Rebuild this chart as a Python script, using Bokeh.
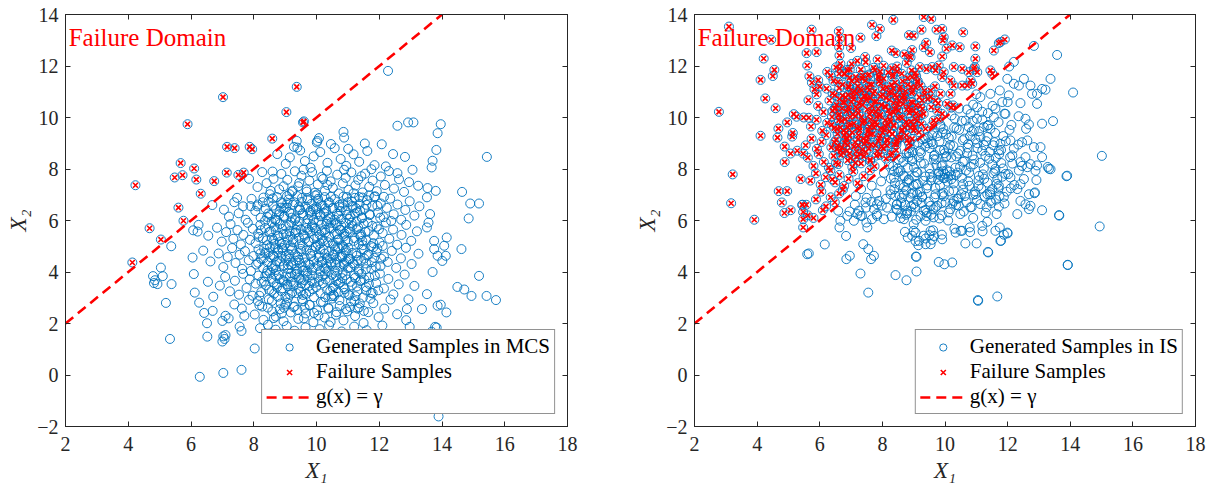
from bokeh.plotting import figure
from bokeh.models import Range1d, LinearAxis, FixedTicker, Legend, LegendItem, Label
from bokeh.layouts import row
from bokeh.embed import file_html
from bokeh.resources import INLINE

# ---------------------------------------------------------------- data
x1_ticks = [2, 4, 6, 8, 10, 12, 14, 16, 18]
x2_ticks = [-2, 0, 2, 4, 6, 8, 10, 12, 14]

# limit state g(x) = gamma  ->  X2 = X1
gamma_x1 = [2, 14]
gamma_x2 = [2, 14]

# Monte Carlo samples (safe side, X2 < X1)
mcs_safe_upper = [
    (12.28, 11.81), (12.58, 9.68), (12.92, 9.81), (13.09, 9.81), (13.96, 9.74), (13.86, 9.39),
    (10.08, 9.20), (10.01, 9.03), (10.86, 9.44), (10.88, 9.22), (10.03, 9.09), (9.37, 9.09),
    (9.39, 8.83), (11.54, 8.99), (12.08, 8.96),
    (13.82, 8.74), (12.82, 8.47), (15.43, 8.47), (13.70, 8.32), (13.67, 8.06), (12.21, 8.10),
    (13.06, 7.97), (8.75, 8.58), (9.02, 8.20), (9.15, 8.45), (9.48, 8.72), (9.63, 8.31),
    (9.81, 8.05), (10.12, 8.66), (10.35, 8.24), (10.58, 8.81), (10.77, 8.39), (10.95, 8.12),
    (11.18, 8.57), (11.36, 8.28), (11.62, 8.70), (11.85, 8.15), (12.44, 8.58), (9.28, 8.86),
    (10.46, 8.97), (11.01, 8.78), (9.91, 8.49),
    (7.85, 7.62), (8.12, 7.30), (8.54, 7.15), (8.60, 7.90), (8.63, 7.62), (8.41, 7.45),
    (8.88, 7.81), (8.95, 7.33), (9.07, 7.58), (9.22, 7.12), (9.31, 7.91), (9.45, 7.46),
    (9.52, 7.74), (9.68, 7.21), (9.77, 7.55), (9.86, 7.88), (9.95, 7.08), (10.04, 7.40),
    (10.16, 7.69), (10.27, 7.15), (10.33, 7.93), (10.45, 7.52), (10.52, 7.27), (10.66, 7.78),
    (10.71, 7.05), (10.84, 7.44), (10.93, 7.66), (11.02, 7.19), (11.11, 7.87), (11.24, 7.36),
    (11.33, 7.58), (11.47, 7.09), (11.55, 7.82), (11.68, 7.31), (11.79, 7.55), (11.92, 7.14),
    (12.05, 7.71), (12.18, 7.38), (12.31, 7.92), (12.47, 7.24), (12.63, 7.60), (12.79, 7.11),
    (12.95, 7.49), (13.24, 7.35), (13.54, 7.26), (13.80, 7.15), (14.64, 7.11), (9.14, 7.02),
    (9.59, 7.98), (10.88, 7.97), (11.75, 7.99), (8.27, 7.88), (10.21, 7.61), (11.43, 7.72),
    (12.58, 7.84),
]
mcs_safe_mid = [
    (6.68, 6.60), (7.05, 6.42), (7.21, 6.15), (7.38, 6.71), (7.52, 6.28), (7.66, 6.55),
    (7.74, 6.03), (7.90, 6.56), (7.93, 6.84), (8.05, 6.37), (8.13, 6.62), (8.22, 6.11),
    (8.31, 6.89), (8.38, 6.46), (8.47, 6.73), (8.52, 6.22), (8.61, 6.58), (8.69, 6.04),
    (8.74, 6.91), (8.82, 6.35), (8.91, 6.67), (8.97, 6.18), (9.03, 6.49), (9.11, 6.82),
    (9.18, 6.27), (9.24, 6.61), (9.33, 6.08), (9.39, 6.95), (9.46, 6.41), (9.52, 6.72),
    (9.58, 6.19), (9.65, 6.53), (9.71, 6.86), (9.79, 6.31), (9.84, 6.65), (9.91, 6.02),
    (9.98, 6.44), (10.05, 6.77), (10.12, 6.23), (10.19, 6.58), (10.26, 6.91), (10.31, 6.36),
    (10.38, 6.69), (10.44, 6.12), (10.51, 6.47), (10.58, 6.83), (10.65, 6.26), (10.72, 6.60),
    (10.79, 6.05), (10.86, 6.93), (10.93, 6.39), (11.00, 6.71), (11.08, 6.16), (11.15, 6.52),
    (11.22, 6.88), (11.30, 6.33), (11.37, 6.64), (11.45, 6.09), (11.53, 6.45), (11.61, 6.79),
    (11.70, 6.21), (11.78, 6.57), (11.87, 6.94), (11.96, 6.30), (12.05, 6.66), (12.14, 6.13),
    (12.24, 6.49), (12.35, 6.85), (12.46, 6.24), (12.58, 6.62), (12.70, 6.03), (12.83, 6.41),
    (12.97, 6.75), (13.12, 6.19), (13.28, 6.55), (13.52, 6.90), (13.62, 6.25), (14.90, 6.66),
    (15.18, 6.66), (14.85, 6.08), (7.47, 6.88), (8.87, 6.50), (9.96, 6.97), (10.83, 6.52),
    (11.67, 6.97), (12.15, 6.92),
    (5.37, 5.00), (6.07, 5.62), (6.21, 5.57), (6.24, 5.83), (6.55, 5.41), (6.83, 5.72),
    (6.98, 5.18), (7.12, 5.55), (7.26, 5.86), (7.35, 5.29), (7.48, 5.63), (7.59, 5.07),
    (7.67, 5.44), (7.81, 5.91), (7.88, 5.25), (7.97, 5.68), (8.06, 5.12), (8.14, 5.49),
    (8.21, 5.83), (8.29, 5.31), (8.36, 5.71), (8.43, 5.04), (8.50, 5.56), (8.57, 5.95),
    (8.63, 5.22), (8.70, 5.62), (8.76, 5.38), (8.83, 5.86), (8.89, 5.09), (8.95, 5.47),
    (9.02, 5.77), (9.08, 5.24), (9.14, 5.58), (9.20, 5.93), (9.26, 5.15), (9.32, 5.52),
    (9.38, 5.81), (9.44, 5.33), (9.50, 5.66), (9.56, 5.02), (9.62, 5.41), (9.68, 5.89),
    (9.74, 5.19), (9.80, 5.57), (9.86, 5.74), (9.92, 5.28), (9.98, 5.61), (10.04, 5.06),
    (10.10, 5.45), (10.16, 5.84), (10.22, 5.21), (10.28, 5.53), (10.34, 5.97), (10.40, 5.36),
    (10.46, 5.70), (10.52, 5.11), (10.58, 5.48), (10.64, 5.82), (10.70, 5.26), (10.76, 5.64),
    (10.82, 5.03), (10.88, 5.39), (10.94, 5.91), (11.00, 5.18), (11.07, 5.55), (11.14, 5.79),
    (11.21, 5.32), (11.28, 5.67), (11.35, 5.08), (11.42, 5.46), (11.50, 5.87), (11.58, 5.23),
    (11.66, 5.59), (11.74, 5.01), (11.83, 5.42), (11.92, 5.76), (12.01, 5.14), (12.11, 5.51),
    (12.21, 5.92), (12.32, 5.29), (12.44, 5.65), (12.57, 5.06), (12.71, 5.44), (12.86, 5.83),
    (13.02, 5.21), (13.20, 5.58), (13.57, 5.92), (13.52, 5.73), (14.15, 5.34), (14.07, 5.02),
    (13.75, 5.21), (9.17, 5.01), (10.07, 5.99), (10.96, 5.58), (12.38, 5.98),
    (5.04, 4.17), (6.05, 4.56), (6.39, 4.83), (6.62, 4.41), (6.88, 4.72), (7.03, 4.19),
    (7.17, 4.58), (7.31, 4.93), (7.42, 4.35), (7.55, 4.67), (7.63, 4.12), (7.72, 4.81),
    (7.84, 4.46), (7.91, 4.04), (7.99, 4.62), (8.08, 4.29), (8.15, 4.88), (8.23, 4.51),
    (8.30, 4.15), (8.37, 4.74), (8.44, 4.37), (8.51, 4.96), (8.58, 4.22), (8.65, 4.59),
    (8.71, 4.08), (8.78, 4.77), (8.84, 4.41), (8.90, 4.93), (8.96, 4.26), (9.02, 4.64),
    (9.08, 4.11), (9.14, 4.52), (9.20, 4.85), (9.26, 4.34), (9.32, 4.69), (9.38, 4.02),
    (9.44, 4.47), (9.50, 4.90), (9.56, 4.19), (9.62, 4.56), (9.68, 4.83), (9.74, 4.31),
    (9.80, 4.71), (9.86, 4.07), (9.92, 4.44), (9.98, 4.97), (10.04, 4.24), (10.10, 4.61),
    (10.16, 4.38), (10.22, 4.87), (10.28, 4.13), (10.34, 4.54), (10.40, 4.79), (10.46, 4.29),
    (10.52, 4.66), (10.58, 4.05), (10.64, 4.48), (10.70, 4.92), (10.76, 4.21), (10.82, 4.58),
    (10.88, 4.36), (10.94, 4.84), (11.00, 4.15), (11.07, 4.51), (11.14, 4.74), (11.21, 4.27),
    (11.28, 4.63), (11.35, 4.09), (11.42, 4.45), (11.50, 4.88), (11.58, 4.33), (11.66, 4.68),
    (11.75, 4.12), (11.84, 4.55), (11.94, 4.91), (12.04, 4.23), (12.15, 4.60), (12.27, 4.39),
    (12.40, 4.82), (12.54, 4.16), (12.69, 4.53), (12.85, 4.94), (13.03, 4.31), (13.25, 4.71),
    (13.75, 4.89), (14.62, 4.89), (13.86, 4.63), (14.12, 4.63), (14.01, 4.43), (13.70, 4.00),
    (9.47, 4.36), (10.12, 4.03), (10.67, 4.99), (11.81, 4.96),
]
mcs_safe_dense = [
    (9.83, 4.62), (10.47, 5.91), (8.92, 3.37), (11.26, 6.48), (9.14, 5.83), (10.71, 3.55),
    (8.46, 6.27), (11.89, 4.21), (9.57, 2.86), (10.05, 6.84), (8.68, 4.95), (11.41, 5.37),
    (9.31, 3.91), (10.93, 4.76), (8.23, 5.62), (12.03, 6.11), (9.76, 5.17), (10.28, 3.02),
    (8.81, 7.21), (11.07, 2.64), (9.44, 6.52), (10.62, 4.28), (8.37, 3.84), (11.63, 5.94),
    (9.02, 4.47), (10.16, 5.58), (8.59, 2.47), (11.34, 4.02), (9.69, 7.12), (10.84, 6.66),
    (8.14, 4.36), (11.97, 3.29), (9.25, 5.27), (10.38, 2.58), (8.75, 5.99), (11.18, 7.06),
    (9.61, 3.68), (10.55, 5.03), (8.29, 6.71), (11.72, 2.96), (9.88, 3.33), (10.11, 4.88),
    (8.97, 6.14), (11.53, 3.71), (9.37, 4.13), (10.79, 5.79), (8.53, 4.58), (11.02, 4.51),
    (9.73, 6.05), (10.24, 6.29), (8.86, 2.78), (11.47, 6.89), (9.16, 3.12), (10.67, 4.05),
    (8.41, 5.23), (11.81, 5.12), (9.51, 4.81), (10.35, 7.38), (8.63, 3.59), (11.29, 3.44),
    (9.92, 2.41), (10.03, 5.36), (8.18, 3.08), (11.61, 4.64), (9.06, 6.95), (10.89, 3.19),
    (8.71, 6.43), (11.12, 5.91), (9.58, 5.46), (10.43, 4.52), (8.33, 4.91), (11.94, 6.57),
    (9.27, 2.64), (10.58, 6.03), (8.94, 4.22), (11.38, 2.78), (9.81, 6.38), (10.19, 3.84),
    (8.51, 7.02), (11.76, 4.38), (9.12, 4.69), (10.73, 2.91), (8.27, 2.66), (11.22, 6.27),
    (9.66, 3.94), (10.97, 6.91), (8.79, 5.41), (11.56, 5.56), (9.42, 7.33), (10.31, 4.33),
    (8.57, 3.27), (11.09, 3.62), (9.97, 4.99), (10.52, 3.38), (8.11, 6.55), (12.11, 5.01),
    (9.21, 6.11), (10.66, 5.47), (8.89, 2.39), (11.44, 4.89), (9.35, 5.63), (10.08, 3.63),
    (8.44, 4.06), (11.69, 6.24), (9.78, 2.72), (10.86, 4.97), (8.66, 5.76), (11.24, 3.06),
    (9.49, 3.24), (10.14, 6.62), (8.99, 5.05), (11.86, 3.85), (9.09, 2.98), (10.41, 5.72),
    (8.21, 4.72), (11.33, 5.73), (9.64, 4.37), (10.77, 6.37), (8.73, 4.41), (11.51, 2.49),
    (9.86, 5.82), (10.21, 2.82), (8.48, 2.93), (11.16, 4.34), (9.29, 6.71), (10.92, 5.22),
    (8.83, 3.72), (11.78, 5.79), (9.54, 6.88), (10.49, 3.89), (8.36, 5.99), (11.04, 6.06),
    (9.94, 3.58), (10.64, 2.44), (8.93, 4.84), (11.43, 3.93), (9.18, 3.62), (10.26, 4.71),
    (8.61, 6.86), (12.06, 4.52), (9.71, 4.03), (10.82, 3.76), (8.16, 5.36), (11.27, 4.73),
    (9.39, 2.53), (10.02, 7.01), (8.77, 3.04), (11.59, 6.61), (9.03, 5.49), (10.57, 4.66),
    (8.39, 3.48), (11.13, 6.74), (9.83, 6.21), (10.36, 5.16), (8.69, 4.27), (11.91, 4.77),
    (9.47, 5.07), (10.71, 6.18), (8.25, 3.62), (11.39, 6.38), (9.19, 4.27), (10.94, 2.56),
    (8.55, 5.58), (11.67, 3.54), (9.62, 2.61), (10.17, 4.43), (8.87, 6.71), (11.21, 2.87),
    (9.33, 4.44), (10.46, 6.92), (8.13, 2.87), (11.84, 6.92), (9.91, 4.16), (10.61, 5.88),
    (8.64, 2.21), (11.46, 5.21), (9.07, 3.52), (10.29, 6.47), (8.43, 6.14), (11.01, 3.13),
    (9.56, 6.28), (10.87, 4.28), (8.31, 4.53), (11.74, 3.19), (9.74, 5.64), (10.06, 2.31),
    (8.91, 5.67), (11.31, 2.58), (9.24, 7.16), (10.54, 3.12), (8.71, 3.86), (11.57, 4.11),
    (9.45, 3.77), (10.12, 5.11), (8.47, 4.76), (11.99, 5.66), (9.99, 6.53), (10.75, 4.59),
    (8.97, 2.61), (11.36, 6.91),
    (9.22, 4.91), (10.44, 3.27), (8.83, 5.16), (11.06, 5.68), (9.67, 3.15), (10.13, 6.16),
    (8.62, 4.14), (11.31, 4.46), (9.48, 6.43), (10.86, 3.41), (9.03, 3.83), (10.32, 5.87),
    (8.95, 6.48), (11.48, 5.04), (9.79, 4.28), (10.59, 4.88), (9.34, 5.54), (10.97, 6.22),
    (8.74, 3.42), (11.23, 3.77), (9.95, 5.71), (10.24, 4.17), (9.13, 6.33), (10.68, 5.26),
    (8.58, 5.32), (11.15, 6.57), (9.58, 4.06), (10.41, 6.71), (9.01, 2.74), (11.37, 5.46),
    (9.86, 3.87), (10.07, 4.56), (8.69, 6.02), (11.59, 3.28), (9.41, 4.58), (10.74, 5.63),
    (9.26, 3.47), (10.52, 6.49), (8.89, 4.63), (11.01, 4.94), (9.71, 6.79), (10.29, 3.71),
    (9.16, 5.39), (10.81, 4.63), (8.52, 3.97), (11.45, 6.12), (9.63, 5.29), (10.35, 4.04),
    (9.07, 6.67), (10.92, 3.88), (9.53, 3.56), (10.18, 5.29), (8.78, 4.87), (11.28, 5.96),
    (9.89, 6.44), (10.63, 3.65), (9.31, 6.02), (10.47, 4.38), (8.66, 5.09), (11.08, 4.18),
    (9.76, 3.46), (10.01, 6.24), (9.19, 3.96), (10.89, 5.49), (8.96, 3.63), (11.52, 4.52),
    (9.45, 5.96), (10.27, 5.64), (9.87, 4.83), (10.73, 6.52), (9.09, 4.28), (10.56, 3.06),
    (8.81, 6.24), (11.19, 5.21), (9.68, 5.71), (10.38, 6.07), (9.36, 3.18), (10.95, 4.41),
    (8.61, 4.66), (11.41, 3.67),
]
mcs_safe_lower = [
    (4.79, 3.84), (4.85, 3.68), (5.10, 3.84), (4.82, 3.57), (4.93, 3.53), (5.38, 3.53),
    (6.09, 3.92), (6.54, 3.62), (6.71, 3.04), (6.92, 3.47), (7.09, 3.81), (7.24, 3.25),
    (7.40, 3.66), (7.53, 3.12), (7.66, 3.93), (7.77, 3.38), (7.87, 3.71), (7.96, 3.08),
    (8.06, 3.55), (8.15, 3.86), (8.24, 3.22), (8.33, 3.63), (8.41, 3.95), (8.49, 3.31),
    (8.57, 3.74), (8.65, 3.16), (8.73, 3.52), (8.80, 3.89), (8.87, 3.27), (8.94, 3.68),
    (9.01, 3.04), (9.08, 3.44), (9.15, 3.82), (9.22, 3.19), (9.29, 3.58), (9.36, 3.93),
    (9.43, 3.35), (9.50, 3.72), (9.57, 3.11), (9.64, 3.49), (9.71, 3.86), (9.78, 3.24),
    (9.85, 3.63), (9.92, 3.02), (9.99, 3.41), (10.06, 3.79), (10.13, 3.17), (10.20, 3.56),
    (10.27, 3.91), (10.34, 3.29), (10.41, 3.67), (10.48, 3.06), (10.55, 3.45), (10.62, 3.84),
    (10.69, 3.21), (10.76, 3.60), (10.83, 3.97), (10.90, 3.33), (10.97, 3.71), (11.05, 3.09),
    (11.13, 3.48), (11.21, 3.87), (11.30, 3.25), (11.39, 3.64), (11.48, 3.01), (11.58, 3.42),
    (11.68, 3.80), (11.79, 3.18), (11.90, 3.57), (12.02, 3.94), (12.15, 3.36), (12.29, 3.73),
    (12.45, 3.13), (12.62, 3.52), (12.93, 2.94), (13.52, 3.14), (14.49, 3.42), (14.71, 3.32),
    (14.94, 3.07), (15.42, 3.07), (15.72, 2.91), (15.18, 3.85), (12.81, 3.90), (13.12, 3.46),
    (5.20, 2.80), (6.12, 3.20), (6.26, 2.81), (6.42, 2.41), (6.51, 2.01), (6.69, 2.49),
    (7.10, 2.30), (7.20, 2.20), (7.00, 2.10), (7.70, 2.30), (7.38, 2.74), (7.62, 2.58),
    (7.85, 2.92), (8.03, 2.35), (8.18, 2.71), (8.31, 2.14), (8.45, 2.62), (8.58, 2.88),
    (8.70, 2.27), (8.83, 2.55), (8.95, 2.09), (9.06, 2.81), (9.18, 2.43), (9.30, 2.66),
    (9.42, 2.18), (9.54, 2.95), (9.66, 2.39), (9.78, 2.72), (9.90, 2.05), (10.02, 2.51),
    (10.14, 2.84), (10.26, 2.23), (10.38, 2.61), (10.50, 2.97), (10.62, 2.34), (10.74, 2.68),
    (10.86, 2.12), (10.98, 2.47), (11.10, 2.86), (11.23, 2.29), (11.36, 2.63), (11.50, 2.02),
    (11.65, 2.44), (11.81, 2.79), (11.98, 2.25), (12.16, 2.58), (12.36, 2.93), (12.57, 2.36),
    (12.88, 2.56), (12.86, 2.13), (13.36, 2.56), (13.86, 2.69), (13.96, 2.73), (14.14, 2.43),
    (9.60, 2.20), (10.45, 2.06),
    (6.52, 1.49), (7.00, 1.30), (7.07, 1.40), (7.10, 1.55), (7.03, 1.50), (7.61, 1.71),
    (7.55, 1.88), (8.03, 1.03), (5.33, 1.40), (8.20, 1.82), (8.45, 1.95), (8.70, 1.76),
    (9.05, 1.90), (9.30, 1.72), (9.65, 1.85), (10.10, 1.78), (10.40, 1.93), (10.80, 1.69),
    (11.20, 1.88), (11.60, 1.74), (12.10, 1.92), (12.97, 1.87), (13.67, 1.68), (13.83, 1.84),
    (13.78, 1.87), (6.28, -0.07), (7.03, 0.08), (7.61, 0.20), (13.89, -1.61), (9.50, 0.80),
    (10.50, 1.10), (11.30, 0.40), (12.40, 1.20), (10.90, -0.50),
]
# Monte Carlo failure samples (X2 > X1)
mcs_fail = [
    (4.23, 7.37), (4.13, 4.37), (4.68, 5.70), (5.04, 5.26), (5.48, 7.67), (5.60, 6.50),
    (5.67, 8.23), (5.73, 7.76), (5.76, 5.99), (5.89, 9.74), (6.10, 8.02), (6.17, 7.59),
    (6.31, 7.04), (6.74, 7.53), (7.02, 10.79), (7.14, 7.86), (7.15, 8.86), (7.39, 8.81),
    (7.51, 7.77), (7.68, 7.86), (7.87, 8.86), (7.95, 8.77), (8.59, 9.18), (9.04, 10.21),
    (9.37, 11.19), (9.57, 9.81), (9.60, 9.85),
]

# Importance sampling samples (safe side)
is_safe_outer = [
    (5.60, 4.69), (5.65, 4.72), (6.16, 5.07), (6.85, 4.50), (6.96, 4.63), (6.66, 5.99),
    (6.63, 5.73), (6.84, 5.40), (7.30, 3.94), (7.55, 3.20), (7.39, 5.08), (7.55, 4.89),
    (7.64, 4.50), (7.73, 4.63), (7.52, 5.73), (7.49, 5.92), (7.67, 6.05), (8.05, 6.05),
    (8.15, 6.50), (8.42, 3.88), (8.77, 3.68), (8.72, 5.56), (8.81, 5.34), (9.00, 5.60),
    (9.06, 5.20), (9.15, 5.04), (9.07, 4.60), (9.09, 4.02), (9.38, 5.30), (9.50, 5.43),
    (9.62, 5.62), (9.65, 5.40), (9.91, 5.27), (9.80, 4.39), (9.98, 4.30), (10.23, 4.37),
    (10.65, 5.11), (11.01, 5.11), (11.37, 4.78), (11.05, 2.91), (11.67, 3.05), (13.92, 4.27),
    (14.94, 5.77), (13.65, 6.19), (13.88, 7.72), (15.01, 8.51), (14.09, 10.97), (12.84, 12.78),
    (13.58, 12.43), (12.20, 12.16), (11.77, 5.21), (12.00, 5.50), (11.88, 5.45), (10.50, 5.60),
    (10.80, 5.55), (11.20, 5.58), (10.30, 5.68), (9.90, 5.45),
    (12.05, 11.98), (11.99, 11.50), (12.20, 11.31), (12.36, 11.24), (12.52, 11.50), (12.73, 11.24),
    (12.78, 10.92), (12.94, 10.53), (12.94, 10.92), (13.10, 11.11), (13.21, 11.08), (13.37, 11.50),
    (13.45, 9.86), (13.10, 9.76), (12.59, 9.56), (12.68, 9.73), (12.06, 9.52), (12.41, 10.56),
    (12.57, 9.95), (12.00, 10.60), (12.04, 10.86), (11.93, 10.14), (11.56, 10.01), (11.61, 10.34),
    (11.37, 10.17), (11.00, 10.90), (11.13, 10.79), (11.45, 10.92), (11.75, 11.05), (11.83, 10.60),
    (11.03, 10.40), (10.82, 10.14), (10.66, 9.88), (11.24, 9.63), (11.13, 9.24), (11.45, 9.56),
    (10.92, 9.50), (12.09, 9.11), (12.46, 9.04), (12.63, 9.11), (12.84, 8.85), (13.05, 8.85),
    (13.10, 8.46), (12.57, 8.46), (12.41, 8.27), (12.15, 8.53), (12.63, 8.07), (13.32, 8.01),
    (12.94, 8.14), (12.36, 7.94), (11.61, 8.01), (11.72, 8.72), (11.77, 8.98),
    (13.90, 7.74), (13.64, 6.21), (13.92, 4.28), (11.06, 2.88), (11.38, 4.76), (13.10, 6.40),
    (12.86, 7.06), (12.92, 7.57), (12.89, 7.93), (13.37, 7.99), (13.28, 8.08), (12.68, 6.44),
    (12.73, 6.57), (12.57, 6.63), (12.41, 6.76), (12.31, 6.25), (11.90, 6.66), (11.72, 6.54),
    (11.65, 6.25), (11.75, 5.73), (11.99, 5.53), (11.79, 5.21), (11.61, 5.60), (11.35, 5.95),
    (11.19, 5.79), (10.79, 5.73), (10.55, 5.60), (10.34, 5.53), (9.59, 5.25), (9.32, 5.41),
    (9.06, 5.53), (9.09, 4.59), (9.54, 5.60), (9.64, 6.12), (9.70, 6.51), (12.46, 8.12),
    (12.73, 8.19), (12.41, 7.41), (12.52, 7.61), (12.31, 7.22), (12.87, 7.09), (12.68, 7.02),
]
is_safe_core = [
    (12.09, 7.67), (11.83, 7.70), (11.72, 7.35), (11.51, 7.22), (11.35, 7.02), (11.45, 6.76),
    (11.13, 6.64), (10.97, 7.02), (10.81, 6.51), (10.49, 6.25), (10.17, 6.44), (10.28, 6.76),
    (10.02, 6.70), (9.91, 7.02), (9.75, 6.57), (9.54, 6.57), (9.32, 6.38), (9.22, 6.18),
    (9.38, 5.99), (9.00, 5.86), (8.95, 5.41), (9.38, 5.08), (9.54, 5.08), (9.17, 5.21),
    (9.62, 9.41), (9.85, 9.72), (10.03, 9.35), (10.21, 10.08), (10.37, 9.58), (10.54, 9.87),
    (10.70, 10.31), (10.86, 9.46), (11.02, 9.95), (11.19, 10.22), (11.35, 9.68), (11.52, 10.45),
    (11.71, 9.82), (11.90, 10.15), (12.12, 9.71), (12.35, 10.05), (10.45, 10.35), (9.95, 9.55),
    (11.60, 9.40), (10.90, 10.50),
    (8.85, 8.62), (9.02, 8.95), (9.20, 8.70), (9.36, 9.18), (9.51, 8.81), (9.67, 8.55),
    (9.82, 9.06), (9.97, 8.74), (10.12, 9.21), (10.27, 8.89), (10.42, 8.60), (10.57, 9.12),
    (10.72, 8.83), (10.88, 8.52), (11.03, 9.00), (11.19, 8.71), (11.36, 9.25), (11.54, 8.92),
    (11.73, 8.58), (11.94, 9.08), (12.20, 8.80), (9.45, 9.00), (10.05, 8.50), (10.80, 9.28),
    (8.05, 7.85), (8.21, 8.18), (8.37, 7.92), (8.52, 8.36), (8.67, 7.74), (8.81, 8.05),
    (8.95, 8.41), (9.09, 7.88), (9.23, 8.22), (9.37, 7.71), (9.50, 8.03), (9.64, 8.38),
    (9.78, 7.82), (9.92, 8.15), (10.06, 7.95), (10.20, 8.45), (10.34, 7.77), (10.48, 8.09),
    (10.62, 8.31), (10.77, 7.86), (10.92, 8.19), (11.08, 7.73), (11.24, 8.02), (11.41, 8.40),
    (11.60, 7.91), (11.80, 8.23), (12.02, 7.80), (9.95, 7.65), (10.00, 7.80), (10.10, 7.70),
    (10.20, 7.60), (9.85, 7.75), (10.15, 7.90),
    (7.15, 6.95), (7.32, 7.22), (7.50, 6.88), (7.66, 7.35), (7.81, 7.05), (7.96, 7.52),
    (8.11, 6.84), (8.26, 7.18), (8.40, 7.46), (8.55, 6.97), (8.69, 7.30), (8.84, 7.60),
    (8.98, 7.08), (9.13, 7.41), (9.27, 6.90), (9.41, 7.25), (9.55, 7.56), (9.70, 7.02),
    (9.84, 7.36), (9.99, 7.65), (10.13, 7.13), (10.28, 7.44), (10.43, 6.86), (10.58, 7.20),
    (10.74, 7.52), (10.90, 7.00), (11.07, 7.33), (11.25, 7.62), (11.44, 7.10), (11.65, 7.42),
    (11.88, 6.92), (12.10, 7.25),
    (6.95, 6.35), (7.12, 6.62), (7.30, 6.18), (7.48, 6.50), (7.65, 6.72), (7.82, 6.25),
    (7.98, 6.58), (8.30, 6.15), (8.45, 6.45), (8.60, 6.70), (8.76, 6.22), (8.92, 6.55),
    (9.08, 6.03), (9.25, 6.68), (9.42, 6.30), (9.90, 6.20), (10.10, 6.00), (10.35, 6.60),
    (10.60, 6.35), (10.90, 6.10), (11.30, 6.30),
    (6.59, 6.38), (6.88, 6.18), (7.25, 6.38), (7.35, 6.18), (7.46, 6.70), (7.83, 6.63),
    (7.83, 6.18), (8.26, 7.02), (8.47, 6.63), (8.60, 6.27), (8.69, 6.05), (8.79, 6.38),
    (9.00, 6.63), (9.11, 7.02), (8.37, 7.67), (8.58, 7.93), (8.79, 7.48), (9.00, 7.35),
    (8.90, 6.89), (7.09, 5.99), (7.20, 6.25), (7.73, 6.44), (7.89, 6.76),
]
is_safe_dense = [
    (9.73, 8.14), (10.58, 7.41), (9.12, 7.86), (11.24, 8.93), (8.76, 7.19), (10.21, 9.26),
    (9.48, 6.73), (11.67, 7.62), (8.49, 8.02), (10.93, 8.37), (9.96, 6.94), (11.38, 9.71),
    (8.95, 8.31), (10.44, 6.58), (9.31, 7.54), (12.08, 8.46), (8.62, 6.87), (10.76, 9.63),
    (9.84, 8.73), (11.02, 6.79), (8.27, 7.63), (10.33, 8.05), (9.57, 9.04), (11.51, 8.18),
    (9.04, 6.51), (10.67, 7.94), (8.83, 8.46), (11.86, 9.28), (9.69, 7.27), (10.12, 6.31),
    (8.41, 6.96), (11.16, 7.24), (9.92, 9.42), (10.49, 8.71), (9.23, 8.62), (11.74, 6.96),
    (8.71, 7.71), (10.85, 6.52), (9.41, 6.17), (11.29, 8.51), (9.78, 7.58), (10.03, 8.46),
    (8.56, 7.37), (11.93, 7.81), (9.15, 9.02), (10.62, 9.18), (9.63, 6.43), (11.44, 7.01),
    (8.34, 8.11), (10.27, 7.17), (9.86, 9.65), (11.09, 9.47), (8.93, 7.04), (10.71, 8.62),
    (9.37, 8.87), (12.21, 7.38), (8.67, 8.28), (10.39, 6.84), (9.52, 7.81), (11.58, 9.04),
    (9.01, 8.05), (10.96, 7.13), (8.79, 6.28), (11.33, 6.52), (9.95, 7.08), (10.16, 8.93),
    (8.46, 6.62), (11.79, 8.74), (9.27, 6.93), (10.54, 7.66), (9.71, 8.37), (11.21, 7.79),
    (8.88, 8.81), (10.82, 8.09), (9.44, 7.36), (12.34, 8.95), (8.51, 7.88), (10.08, 7.51),
    (9.61, 8.96), (11.48, 6.68), (9.08, 7.42), (10.29, 9.61), (8.72, 6.61), (11.12, 8.24),
    (9.89, 6.67), (10.64, 6.95), (9.33, 8.21), (11.71, 7.24), (9.59, 9.31), (10.45, 9.52),
    (9.81, 7.89), (11.04, 8.81), (8.61, 8.44), (10.24, 6.66), (9.56, 6.22), (11.36, 7.47),
    (9.17, 8.45), (10.88, 9.87), (8.84, 7.57), (11.62, 8.43), (9.99, 8.61), (10.57, 8.28),
    (8.38, 7.21), (11.97, 7.12), (9.46, 9.25), (10.78, 7.35), (9.66, 6.89), (11.19, 9.92),
    (9.11, 6.76), (10.36, 8.49), (8.69, 7.02), (11.55, 7.83), (9.89, 8.11), (10.19, 7.76),
    (8.91, 6.35), (11.85, 8.02), (9.29, 9.15), (10.69, 6.71), (9.59, 7.67), (11.27, 6.93),
    (8.58, 6.09), (10.97, 9.15), (9.76, 9.28), (10.11, 8.81), (9.03, 7.72), (11.42, 8.66),
    (8.77, 8.61), (10.52, 7.02), (9.38, 6.41), (11.07, 7.56), (9.94, 7.91), (10.31, 9.96),
    (8.47, 6.41), (12.15, 8.21), (9.21, 7.11), (10.74, 8.97), (9.65, 8.51), (11.63, 6.81),
    (8.97, 8.66), (10.41, 7.86), (9.82, 6.08), (11.32, 9.08),
]
# Importance sampling failure samples
is_fail_outer = [
    (3.10, 13.53), (2.78, 10.22), (4.11, 9.29), (3.22, 7.79), (3.17, 6.67), (3.91, 6.03),
    (4.21, 12.29), (4.11, 11.46), (4.50, 11.61), (4.55, 11.85), (4.26, 10.74), (4.59, 10.36),
    (4.45, 13.02), (4.68, 9.57), (4.65, 9.22), (4.88, 8.87), (4.88, 8.27), (4.69, 7.14),
    (4.96, 7.14), (4.79, 6.70), (4.87, 6.29), (5.07, 6.40), (5.14, 9.40), (5.12, 9.26),
    (4.96, 9.81), (5.17, 10.13), (5.26, 10.03), (5.07, 8.60), (5.28, 8.71), (5.47, 8.60),
    (5.39, 7.61), (5.44, 6.61), (5.49, 10.00), (5.65, 9.99), (5.64, 10.67), (5.67, 11.60),
    (5.75, 11.35), (5.83, 11.10), (5.90, 10.90), (6.00, 11.20), (5.95, 11.45), (6.24, 11.77),
    (6.88, 11.85), (6.62, 11.70),
    (8.35, 13.79), (7.67, 13.60), (7.92, 13.44), (7.81, 13.16), (5.74, 13.41), (6.61, 13.35),
    (6.64, 13.06), (6.62, 12.73), (6.63, 12.41), (6.66, 12.09), (5.58, 12.50), (5.90, 12.54),
    (5.60, 12.02), (8.30, 12.60), (8.43, 12.50), (8.70, 12.45), (8.85, 12.38), (8.95, 12.62),
    (8.85, 13.20), (9.00, 13.18), (9.32, 13.90), (9.56, 13.83), (9.25, 13.41), (9.73, 13.41),
    (9.91, 13.44), (9.96, 13.12), (9.93, 12.99), (10.58, 13.31), (9.32, 12.73), (9.52, 12.54),
    (9.91, 12.37), (10.05, 12.67), (10.23, 12.80), (10.47, 12.73), (10.97, 12.76), (10.97, 12.28),
    (10.95, 11.96), (11.56, 12.60), (11.77, 12.93), (11.91, 13.03), (11.72, 12.89), (8.90, 12.34),
    (7.20, 12.20), (7.45, 12.35), (7.85, 12.25), (9.40, 12.90), (7.00, 12.70), (7.30, 13.10),
]
is_fail_core = [
    (9.20, 11.96), (8.95, 11.57), (9.06, 11.18), (9.22, 11.24), (9.54, 11.05),
    (9.59, 11.96), (9.70, 11.83), (9.80, 12.02), (9.96, 11.76), (10.28, 11.96), (10.55, 11.89),
    (10.76, 11.76), (10.92, 11.89), (11.03, 11.76), (10.82, 11.44), (10.71, 11.24), (10.87, 11.31),
    (10.55, 11.24), (10.28, 11.24), (10.17, 11.44), (9.91, 11.57), (11.51, 11.70), (11.45, 11.83),
    (9.54, 10.79), (9.56, 10.40), (9.75, 10.27), (9.64, 9.88), (9.80, 9.92), (9.91, 10.14),
    (10.07, 10.53), (10.18, 10.92), (9.86, 10.92), (9.70, 10.66), (9.27, 10.66), (9.00, 10.27),
    (9.11, 9.88), (9.32, 10.14), (9.00, 9.50), (9.17, 9.43), (9.38, 9.56), (9.59, 9.70),
    (8.95, 9.17), (8.85, 9.00), (10.26, 10.47), (10.20, 10.38),
    (6.35, 11.62), (6.52, 11.95), (6.78, 11.71), (7.02, 12.08), (7.15, 11.58), (7.31, 11.86),
    (7.47, 12.15), (7.58, 11.67), (7.72, 11.93), (7.88, 11.54), (8.04, 12.01), (8.19, 11.75),
    (8.33, 11.59), (8.47, 11.98), (8.62, 11.70), (8.78, 12.12), (8.93, 11.83), (9.08, 11.61),
    (9.41, 11.88), (7.93, 11.78), (7.35, 11.52),
    (6.22, 11.12), (6.41, 10.93), (6.58, 11.38), (6.73, 10.85), (6.91, 11.21), (7.06, 10.97),
    (7.19, 11.43), (7.34, 11.05), (7.46, 10.82), (7.60, 11.29), (7.75, 11.02), (7.89, 11.40),
    (8.01, 10.88), (8.14, 11.17), (8.28, 10.95), (8.41, 11.36), (8.56, 11.08), (8.69, 10.84),
    (8.81, 11.27), (8.97, 11.01), (9.13, 11.42), (9.35, 10.91), (9.68, 11.21), (7.52, 11.15),
    (8.35, 11.12),
    (5.95, 10.45), (6.12, 10.21), (6.31, 10.66), (6.47, 10.34), (6.63, 10.12), (6.79, 10.58),
    (6.94, 10.29), (7.08, 10.71), (7.23, 10.18), (7.37, 10.49), (7.51, 10.76), (7.66, 10.25),
    (7.80, 10.62), (7.94, 10.11), (8.08, 10.43), (8.22, 10.69), (8.36, 10.20), (8.50, 10.52),
    (8.64, 10.77), (8.78, 10.31), (8.92, 10.60), (9.07, 10.15), (9.21, 10.44), (9.45, 10.72),
    (9.78, 10.55), (7.15, 10.40), (8.45, 10.35),
    (5.72, 9.65), (5.90, 9.91), (6.08, 9.48), (6.24, 9.79), (6.39, 10.02), (6.55, 9.56),
    (6.70, 9.87), (6.84, 9.42), (6.99, 9.73), (7.13, 10.05), (7.27, 9.51), (7.40, 9.84),
    (7.54, 9.44), (7.68, 9.76), (7.82, 10.03), (7.95, 9.58), (8.09, 9.89), (8.22, 9.46),
    (8.36, 9.71), (8.50, 9.98), (8.63, 9.53), (8.77, 9.82), (8.91, 9.60), (9.05, 9.95),
    (9.25, 9.75), (7.60, 9.62), (6.90, 9.62),
    (5.55, 8.92), (5.74, 9.18), (5.91, 8.78), (6.06, 9.05), (6.21, 9.32), (6.37, 8.84),
    (6.52, 9.13), (6.66, 8.71), (6.80, 9.01), (6.95, 9.28), (7.09, 8.87), (7.23, 9.16),
    (7.36, 8.75), (7.50, 9.05), (7.63, 9.34), (7.77, 8.92), (7.90, 9.20), (8.03, 8.79),
    (8.17, 9.09), (8.31, 9.36), (8.45, 8.95), (8.60, 9.24), (8.80, 9.12), (7.42, 8.98),
    (5.62, 8.44), (5.80, 8.12), (5.97, 8.58), (6.13, 8.27), (6.29, 8.05), (6.44, 8.51),
    (6.59, 8.19), (6.74, 8.63), (6.89, 8.34), (7.04, 8.08), (7.18, 8.48), (7.32, 8.22),
    (7.47, 8.66), (7.61, 8.37), (7.75, 8.11), (7.92, 8.55), (8.12, 8.40), (8.30, 8.62),
    (6.95, 8.60),
    (5.70, 7.55), (5.88, 7.83), (6.03, 7.39), (6.19, 7.68), (6.34, 7.95), (6.49, 7.48),
    (6.63, 7.77), (6.78, 7.34), (6.92, 7.62), (7.07, 7.90), (7.21, 7.45), (7.40, 7.72),
    (7.60, 7.95), (6.40, 7.60),
    (5.45, 6.61), (5.57, 6.61), (5.47, 6.33), (5.88, 6.82), (6.05, 7.12), (6.20, 6.55),
    (6.35, 6.90), (6.48, 6.71), (6.62, 7.05), (6.74, 7.20), (6.10, 6.40),
    (5.47, 6.05), (5.47, 5.73), (5.62, 6.20), (5.80, 6.10),
]
is_fail_dense = [
    (7.43, 9.88), (8.12, 10.76), (6.87, 9.21), (7.95, 11.32), (6.54, 10.49), (8.61, 9.47),
    (7.18, 10.94), (8.33, 11.68), (6.71, 8.83), (7.69, 9.36), (8.86, 10.18), (6.95, 11.55),
    (7.52, 10.31), (8.48, 9.14), (6.38, 9.72), (7.84, 8.69), (8.74, 11.02), (7.06, 10.12),
    (6.62, 11.14), (8.23, 9.92), (7.31, 8.57), (8.97, 10.58), (6.83, 10.78), (7.76, 11.84),
    (8.39, 10.33), (6.47, 9.04), (7.27, 9.62), (8.68, 10.86), (7.91, 10.05), (6.76, 9.49),
    (8.15, 8.91), (7.58, 11.07), (9.12, 11.36), (6.99, 8.42), (7.37, 11.63), (8.53, 10.64),
    (6.59, 10.08), (7.82, 9.71), (8.91, 9.84), (7.13, 9.04), (6.92, 10.41), (8.29, 11.27),
    (7.64, 8.95), (9.27, 10.33), (6.44, 11.42), (8.06, 9.53), (7.49, 10.67), (8.77, 9.31),
    (6.68, 8.55), (7.97, 10.49), (7.22, 11.21), (9.05, 11.73), (8.44, 8.73), (6.81, 9.93),
    (7.71, 10.93), (8.58, 10.02), (6.52, 8.24), (7.39, 9.18), (8.19, 10.28), (6.96, 11.86),
    (7.87, 9.09), (8.81, 11.53), (7.09, 9.77), (6.63, 10.72), (8.37, 9.67), (7.55, 9.52),
    (9.18, 10.79), (6.89, 8.94), (7.79, 10.22), (8.65, 11.41), (7.26, 10.55), (6.41, 10.26),
    (8.02, 11.12), (7.61, 8.31), (8.94, 10.95), (7.01, 10.61), (6.73, 11.28), (8.27, 8.54),
    (7.46, 11.43), (8.71, 9.62), (7.93, 9.29), (6.57, 9.37), (8.41, 10.87), (7.17, 8.68),
    (9.34, 11.04), (6.85, 10.24), (7.67, 10.44), (8.55, 9.21), (7.33, 10.02), (8.11, 10.41),
    (6.66, 9.61), (7.88, 11.61), (8.84, 10.41), (7.04, 9.42), (6.48, 10.87), (8.32, 9.36),
    (7.57, 8.79), (9.02, 9.61), (6.93, 9.71), (7.74, 10.61), (8.47, 11.79), (7.24, 9.31),
    (6.79, 11.68), (8.17, 9.71), (7.42, 10.84), (8.72, 10.72), (7.99, 8.88), (6.61, 9.89),
    (8.36, 10.56), (7.11, 11.02), (9.21, 10.08), (6.88, 8.71), (7.63, 9.93), (8.51, 10.27),
    (7.36, 9.79), (8.04, 11.51), (6.71, 10.35), (7.81, 8.52), (8.92, 11.18), (7.21, 10.34),
    (6.55, 8.77), (8.24, 10.13), (7.51, 9.27), (8.63, 9.98), (7.02, 11.41), (6.46, 9.58),
    (7.94, 10.83), (8.79, 9.71), (7.29, 11.11), (8.14, 9.14), (6.97, 10.02), (7.73, 9.61),
    (8.45, 9.05), (7.14, 8.24), (6.74, 10.59), (8.31, 11.91), (7.59, 10.12), (9.08, 10.47),
    (6.84, 9.14), (7.86, 10.34), (8.57, 11.18), (7.41, 8.49), (8.09, 9.68), (6.64, 11.89),
    (7.19, 9.58), (8.99, 9.72), (7.66, 11.28), (8.38, 8.96), (6.91, 10.88), (7.47, 9.11),
    (8.21, 10.97), (6.58, 8.91), (7.78, 9.82), (8.66, 10.53), (7.32, 10.71), (8.01, 9.41),
    (6.78, 9.31), (7.54, 11.63), (8.89, 10.29), (7.07, 10.82), (6.51, 10.37), (8.26, 9.85),
    (7.62, 10.76), (8.46, 10.79), (7.23, 8.91), (6.94, 11.17),
]

# ---------------------------------------------------------------- style
BLUE = "#0072BD"
RED = "#FF0000"
AXIS_GRAY = "#262626"
SERIF = "'Liberation Serif', 'DejaVu Serif', serif"


def xs(points):
    return [p[0] for p in points]


def ys(points):
    return [p[1] for p in points]


def make_panel(safe, fail, sample_label, border_left, frame_w, border_right):
    p = figure(
        frame_width=frame_w, frame_height=412,
        min_border_left=border_left, min_border_right=border_right,
        min_border_top=14, min_border_bottom=57,
        x_range=Range1d(2, 18), y_range=Range1d(-2, 14),
        output_backend="svg", toolbar_location=None,
    )
    p.xgrid.visible = False
    p.ygrid.visible = False
    p.outline_line_color = AXIS_GRAY
    p.outline_line_width = 1
    p.background_fill_color = "white"
    p.border_fill_color = "white"

    for ax in p.xaxis:
        ax.ticker = FixedTicker(ticks=x1_ticks)
        ax.axis_label = "X\u2081"
        ax.major_label_standoff = 10
        ax.axis_label_standoff = 4
    for ax in p.yaxis:
        ax.ticker = FixedTicker(ticks=x2_ticks)
        ax.axis_label = "X\u2082"
        ax.major_label_standoff = 7
        ax.axis_label_standoff = 3

    # tick marks on the top and right edges of the box, without labels
    box_right = LinearAxis(ticker=FixedTicker(ticks=x2_ticks), major_label_text_color=None,
                           major_label_standoff=0)
    box_top = LinearAxis(ticker=FixedTicker(ticks=x1_ticks), major_label_text_color=None,
                         major_label_standoff=0)
    p.add_layout(box_right, "right")
    p.add_layout(box_top, "above")

    for ax in p.xaxis + p.yaxis:
        ax.axis_line_color = AXIS_GRAY
        ax.major_tick_line_color = AXIS_GRAY
        ax.major_tick_in = 5
        ax.major_tick_out = 0
        ax.minor_tick_line_color = None
        ax.major_label_text_font = SERIF
        ax.major_label_text_font_size = "20px"
        ax.axis_label_text_font = SERIF
        ax.axis_label_text_font_size = "23px"
        ax.axis_label_text_font_style = "italic"
        ax.axis_label_text_color = AXIS_GRAY
    for ax in p.below + p.left:
        if isinstance(ax, LinearAxis):
            ax.major_label_text_color = AXIS_GRAY

    everything = safe + fail
    circles = p.scatter(xs(everything), ys(everything), marker="circle", size=9,
                        fill_color=None, line_color=BLUE, line_width=0.9)
    limit = p.line(gamma_x1, gamma_x2, line_color=RED, line_width=2.6, line_dash="10 6")
    crosses = p.scatter(xs(fail), ys(fail), marker="x", size=7,
                        line_color=RED, line_width=1.6)

    p.add_layout(Label(x=2.1, y=13.1, text="Failure Domain", text_color=RED,
                       text_font=SERIF, text_font_size="25px",
                       text_baseline="middle"))

    legend = Legend(
        items=[
            LegendItem(label=sample_label, renderers=[circles]),
            LegendItem(label="Failure Samples", renderers=[crosses]),
            LegendItem(label="g(x) = \u03b3", renderers=[limit]),
        ],
        location="bottom_right", margin=12, padding=4, spacing=0,
        glyph_width=46, glyph_height=18, label_height=18, label_standoff=4,
        label_text_font=SERIF, label_text_font_size="21px",
        label_text_color="black",
        border_line_color=AXIS_GRAY, border_line_width=1,
        background_fill_color="white", background_fill_alpha=1.0,
    )
    p.add_layout(legend)
    return p


left = make_panel(mcs_safe_upper + mcs_safe_mid + mcs_safe_dense + mcs_safe_lower, mcs_fail,
                  "Generated Samples in MCS", 65, 502, 63)
right = make_panel(is_safe_outer + is_safe_core + is_safe_dense,
                   is_fail_outer + is_fail_core + is_fail_dense,
                   "Generated Samples in IS", 64, 501, 20)

page = row(left, right)
open("out.html", "w").write(file_html(page, INLINE))
